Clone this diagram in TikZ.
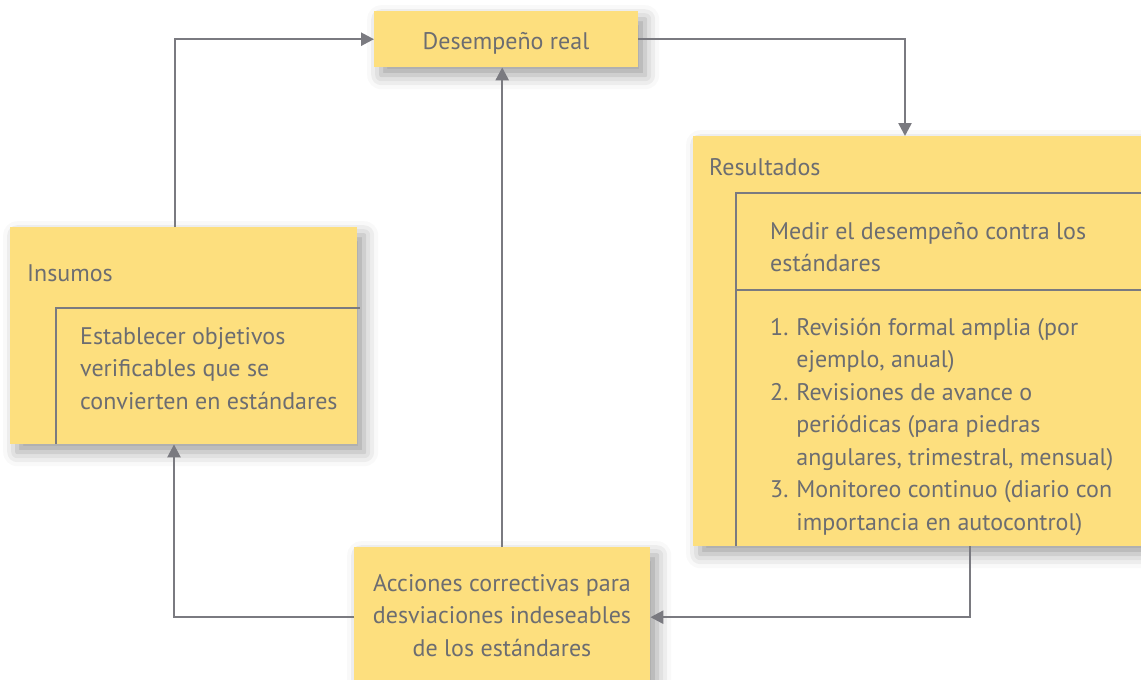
\documentclass[tikz,border=0pt]{standalone}
\usepackage{fontspec}
\setmainfont{PT Sans}
\usetikzlibrary{arrows.meta,shadows.blur,calc}
\definecolor{boxyellow}{RGB}{253,223,126}
\definecolor{linegray}{RGB}{122,122,128}
\definecolor{textgray}{RGB}{108,109,113}
\tikzset{
  box/.style={fill=boxyellow, draw=none, inner sep=0pt, anchor=north west,
    blur shadow={shadow xshift=7pt, shadow yshift=-8pt, shadow blur radius=14pt, shadow opacity=38}},
  lbl/.style={text=textgray, font=\fontsize{24}{32.5}\selectfont, inner sep=0pt},
  frame/.style={draw=linegray, line width=2.5pt},
  arr/.style={draw=linegray, line width=2.5pt, -{Triangle[length=13pt,width=13pt]}},
}
\begin{document}
\begin{tikzpicture}[x=1pt,y=-1pt]
\useasboundingbox (0,0) rectangle (1141,680);
% boxes
\node[box, minimum width=264pt, minimum height=56pt] (des) at (374,11) {};
\node[box, minimum width=448pt, minimum height=410pt] (res) at (693,136) {};
\node[box, minimum width=347pt, minimum height=217pt] (ins) at (10,227) {};
\node[box, minimum width=296pt, minimum height=140pt] (acc) at (354,547) {};
% inner frames
\draw[frame] (736,546) -- (736,193) -- (1141,193);
\draw[frame] (736,290) -- (1141,290);
\draw[frame] (56,444) -- (56,308) -- (360,308);
% texts
\node[lbl, anchor=base] (destext) at (506,49) {Desempeño real};
\node[lbl, anchor=base west] (restitle) at (709,175) {Resultados};
\node[lbl, anchor=base west] (medir) at (770,239) {%
\begin{tabular}[t]{@{}l@{}}Medir el desempeño contra los\\estándares\end{tabular}};
\node[lbl, anchor=base west] (lista) at (770,335) {%
\begin{tabular}[t]{@{}r@{\hspace{8pt}}l@{}}
1. & Revisión formal amplia (por\\
   & ejemplo, anual)\\
2. & Revisiones de avance o\\
   & periódicas (para piedras\\
   & angulares, trimestral, mensual)\\
3. & Monitoreo continuo (diario con\\
   & importancia en autocontrol)
\end{tabular}};
\node[lbl, anchor=base west] (institle) at (27,281) {Insumos};
\node[lbl, anchor=base west] (instext) at (80,344) {%
\begin{tabular}[t]{@{}l@{}}Establecer objetivos\\verificables que se\\convierten en estándares\end{tabular}};
\node[lbl, anchor=base] (acctext) at (502,591) {%
\begin{tabular}[t]{@{}c@{}}Acciones correctivas para\\desviaciones indeseables\\de los estándares\end{tabular}};
% connectors
\draw[arr] (ins.north -| 175,0) |- (des.west);
\draw[arr] (des.east) -| (res.north -| 905,0);
\draw[arr] (res.south -| 970,0) |- (acc.east);
\draw[arr] (acc.west) -| (ins.south -| 174,0);
\draw[arr] (acc.north) -- (acc.north |- des.south);
\end{tikzpicture}
\end{document}
